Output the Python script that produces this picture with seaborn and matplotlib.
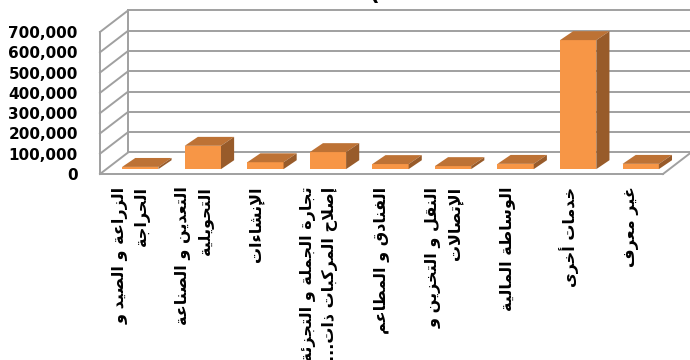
import matplotlib
matplotlib.use("Agg")

import matplotlib.pyplot as plt
import seaborn as sns
from matplotlib.ticker import FuncFormatter


# data
CATEGORIES = [
    "الزراعة و الصيد و\nالحراجة",
    "التعدين و الصناعة\nالتحويلية",
    "الإنشاءات",
    "تجارة الجملة و التجزئة و\nإصلاح المركبات ذات...",
    "الفنادق و المطاعم",
    "النقل و التخزين و\nالإتصالات",
    "الوساطة المالية",
    "خدمات أخرى",
    "غير معرف",
]
VALUES = [11000, 115000, 34000, 84000, 25000, 15000, 26000, 636000, 26000]
Y_TICKS = [0, 100000, 200000, 300000, 400000, 500000, 600000, 700000]
TITLE_TAIL = "2012 ("

FRONT = "#F79646"
TOP = "#BD7235"
SIDE = "#985B2A"
WALL = "#a0a0a0"


# --- minimal arabic shaping (matplotlib draws glyphs left to right, unjoined) ---
_LETTERS = "ءآأؤإئابةتثجحخدذرزسشصضطظعغفقكلمنهوىي"
_COUNTS = [1, 2, 2, 2, 2, 4, 2, 4, 2, 4, 4, 4, 4, 4, 2, 2, 2, 2,
           4, 4, 4, 4, 4, 4, 4, 4, 4, 4, 4, 4, 4, 4, 4, 2, 2, 4]
FORMS = {}
_code = 0xFE80
for _ch, _n in zip(_LETTERS, _COUNTS):
    FORMS[_ch] = [chr(_code + k) for k in range(_n)]
    _code += _n
LAM_ALEF = {"آ": 0xFEF5, "أ": 0xFEF7, "إ": 0xFEF9, "ا": 0xFEFB}


def _dual(ch):
    return ch in FORMS and len(FORMS[ch]) == 4


def _joins(ch):
    return ch in FORMS and len(FORMS[ch]) > 1


def shape_line(text):
    out = []
    i = 0
    while i < len(text):
        ch = text[i]
        prev = text[i - 1] if i > 0 else ""
        nxt = text[i + 1] if i + 1 < len(text) else ""
        if ch not in FORMS:
            out.append(ch)
            i += 1
            continue
        join_prev = _dual(prev) and _joins(ch)
        if ch == "ل" and nxt in LAM_ALEF:
            out.append(chr(LAM_ALEF[nxt] + (1 if join_prev else 0)))
            i += 2
            continue
        join_next = _dual(ch) and _joins(nxt)
        forms = FORMS[ch]
        if join_prev and join_next:
            out.append(forms[3])
        elif join_next:
            out.append(forms[2])
        elif join_prev:
            out.append(forms[1])
        else:
            out.append(forms[0])
        i += 1
    return "".join(out)[::-1]


def shape(text):
    return "\n".join(shape_line(line) for line in text.split("\n"))


labels = [shape(c) for c in CATEGORIES]

fig = plt.figure(figsize=(6.9, 3.6), dpi=100)
ax = fig.add_axes([100 / 690, 186 / 360, 563 / 690, 142 / 360])

sns.barplot(x=labels, y=VALUES, color=FRONT, width=0.58, saturation=1,
            ax=ax, zorder=3)

ax.set_xlim(-0.5, len(labels) - 0.5)
ax.set_ylim(0, Y_TICKS[-1])

# depth offsets in data units (3D look of the original)
wall_dx, wall_dy = 0.448, 106000
bar_off_x, bar_off_y = 0.144, 24000
bar_dx, bar_dy = 0.21, 44000

x_left, x_right = -0.5, len(labels) - 0.5
line_kw = dict(color=WALL, lw=1.4, clip_on=False, zorder=1)

# left wall and back wall
ax.plot([x_left, x_left], [0, Y_TICKS[-1]], **line_kw)
ax.plot([x_left + wall_dx] * 2, [wall_dy, Y_TICKS[-1] + wall_dy], **line_kw)
for v in Y_TICKS:
    ax.plot([x_left, x_left + wall_dx], [v, v + wall_dy], **line_kw)
    ax.plot([x_left + wall_dx, x_right + wall_dx], [v + wall_dy] * 2, **line_kw)
# floor
ax.plot([x_left, x_right], [0, 0], **line_kw)
ax.plot([x_right, x_right + wall_dx], [0, wall_dy], **line_kw)

# move bars to mid depth and add top / side faces
for p in ax.patches:
    p.set_x(p.get_x() + bar_off_x)
    p.set_y(bar_off_y)
    p.set_clip_on(False)
    x0, w, y0, h = p.get_x(), p.get_width(), p.get_y(), p.get_height()
    ax.fill([x0, x0 + w, x0 + w + bar_dx, x0 + bar_dx],
            [y0 + h, y0 + h, y0 + h + bar_dy, y0 + h + bar_dy],
            color=TOP, lw=0, clip_on=False, zorder=3)
    ax.fill([x0 + w, x0 + w + bar_dx, x0 + w + bar_dx, x0 + w],
            [y0, y0 + bar_dy, y0 + h + bar_dy, y0 + h],
            color=SIDE, lw=0, clip_on=False, zorder=3)

for s in ax.spines.values():
    s.set_visible(False)
ax.grid(False)
ax.set_facecolor("none")

ax.set_yticks(Y_TICKS)
ax.yaxis.set_major_formatter(FuncFormatter(lambda v, _: f"{int(v):,}"))
ax.tick_params(axis="y", length=0, pad=16, labelsize=11)
for t in ax.get_yticklabels():
    t.set_fontweight("bold")

ax.tick_params(axis="x", length=0, pad=9)
ax.set_xticks(range(len(labels)))
ax.set_xticklabels(labels, rotation=90, ha="center", va="top",
                   multialignment="right", fontsize=11.5, fontweight="bold",
                   linespacing=1.45)
ax.set_xlabel("")
ax.set_ylabel("")

fig.text(300 / 690, 1.0, TITLE_TAIL, ha="left", va="baseline",
         fontsize=16, fontweight="bold")

fig.savefig("out.png", dpi=100)
